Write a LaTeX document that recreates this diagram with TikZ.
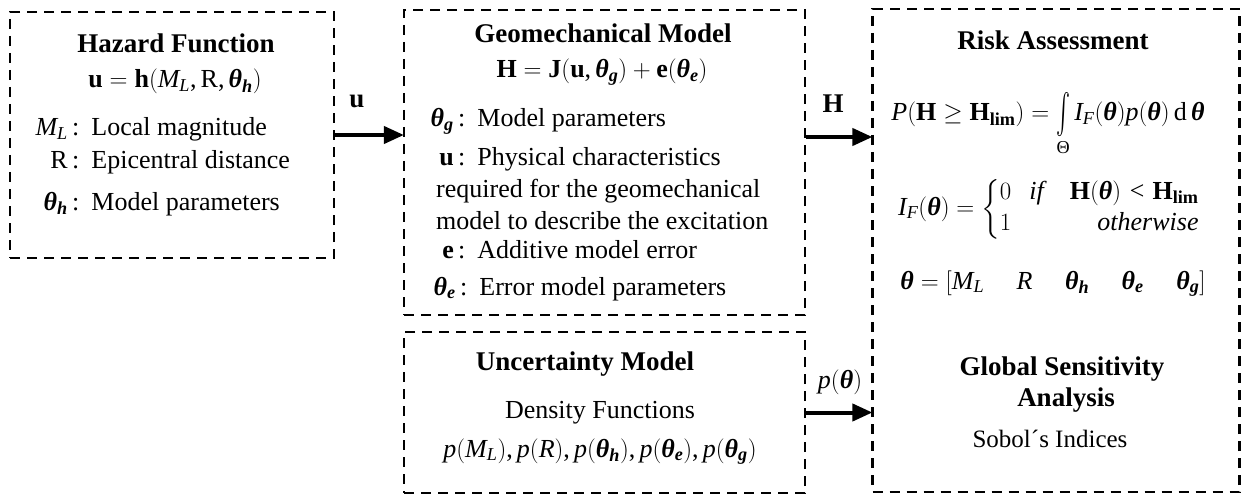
\documentclass[tikz,border=0pt]{standalone}
\usepackage{amsmath}
\usepackage{graphicx}
\usepackage{fontspec}
\setmainfont[NFSSFamily=libser]{Liberation Serif}
\DeclareSymbolFont{letters}{TU}{libser}{m}{it}
\DeclareSymbolFont{bletters}{TU}{libser}{b}{it}
\DeclareSymbolFont{uprm}{TU}{libser}{m}{n}
\DeclareMathAlphabet{\mbf}{TU}{libser}{b}{n}
\DeclareMathAlphabet{\mbi}{TU}{libser}{b}{it}
\DeclareMathAlphabet{\mrm}{TU}{libser}{m}{n}
\Umathchardef\bth="0 \symbletters "03B8
\Umathchardef\myTheta="0 \symuprm "0398
\Umathcode`,="6 \symuprm "2C
\newcommand{\bigint}{\mathop{\vcenter{\hbox{\resizebox{14pt}{32pt}{$\int$}}}}\limits}
\usetikzlibrary{arrows.meta}
\tikzset{
  box/.style={draw, line width=2.2pt, dash pattern=on 10pt off 7pt, inner sep=0pt},
  txt/.style={inner sep=0pt, anchor=base, font=\fontsize{26}{31}\selectfont},
  ttl/.style={txt, font=\fontsize{27}{31}\selectfont\bfseries},
  lbl/.style={txt, anchor=base east},
  itm/.style={txt, anchor=base west},
  arr/.style={line width=4pt, -{Triangle[length=20pt,width=17pt]}, shorten >=-1pt}
}
\begin{document}
\begin{tikzpicture}[x=1pt,y=-1pt]
\useasboundingbox (0,0) rectangle (1241,497);
% boxes
\node[box, minimum width=324pt, minimum height=246pt] (hz) at (172,135) {};
\node[box, minimum width=401pt, minimum height=305pt] (geo) at (604.5,162.5) {};
\node[box, minimum width=401pt, minimum height=161pt] (unc) at (604.5,412.5) {};
\node[box, minimum width=367pt, minimum height=483pt] (risk) at (1056,250.5) {};
% hazard
\node[ttl] (hzt) at (176,53) {Hazard Function};
\node[txt] (hze) at (175,88) {$\mbf{u}=\mbf{h}(M_L,\mrm{R},\bth_{\mbi{h}})$};
\node[lbl] (hz1l) at (68,136) {$M_L$};
\node[itm] (hz1) at (72,136) {:\hspace{12pt}Local magnitude};
\node[lbl] (hz2l) at (68,168) {R};
\node[itm] (hz2) at (72,168) {:\hspace{12pt}Epicentral distance};
\node[lbl] (hz3l) at (68,210) {$\bth_{\mbi{h}}$};
\node[itm] (hz3) at (72,210) {:\hspace{12pt}Model parameters};
% geomechanical
\node[ttl] (geot) at (603,43) {Geomechanical Model};
\node[txt] (geoe) at (602,78) {$\mbf{H}=\mbf{J}(\mbf{u},\bth_{\mbi{g}})+\mbf{e}(\bth_{\mbi{e}})$};
\node[lbl] (g1l) at (454,127) {$\bth_{\mbi{g}}$};
\node[itm] (g1) at (458,127) {:\hspace{12pt}Model parameters};
\node[lbl] (g2l) at (454,166) {$\mbf{u}$};
\node[itm] (g2) at (458,166) {:\hspace{12pt}Physical characteristics};
\node[itm] (g3) at (436,197) {required for the geomechanical};
\node[itm] (g4) at (436,229) {model to describe the excitation};
\node[lbl] (g5l) at (454,258) {$\mbf{e}$};
\node[itm] (g5) at (458,258) {:\hspace{12pt}Additive model error};
\node[lbl] (g6l) at (456,295) {$\bth_{\mbi{e}}$};
\node[itm] (g6) at (460,295) {:\hspace{12pt}Error model parameters};
% uncertainty
\node[ttl] (unct) at (585,370) {Uncertainty Model};
\node[txt] (unc1) at (600,418) {Density Functions};
\node[txt] (unc2) at (600,457) {$p(M_L),p(R),p(\bth_{\mbi{h}}),p(\bth_{\mbi{e}}),p(\bth_{\mbi{g}})$};
% risk
\node[ttl] (riskt) at (1053,50) {Risk Assessment};
\node[txt] (r1) at (1048,121) {$P(\mbf{H}\geq\mbf{H}_{\mbf{lim}})=\bigint_{\myTheta} I_F(\bth)p(\bth)\,\mrm{d}\,\bth$};
\node[txt, anchor=west] (r2) at (898,209) {$I_F(\bth)=\left\{\begin{array}{@{}l@{\hspace{18pt}}r@{}}0 & \textit{if}\quad \mbf{H}(\bth)<\mbf{H}_{\mbf{lim}}\\ 1 & \textit{otherwise}\end{array}\right.$};
\node[txt] (r3) at (1053,289) {$\bth=[M_L\hspace{1.25em}R\hspace{1.25em}\bth_{\mbi{h}}\hspace{1.25em}\bth_{\mbi{e}}\hspace{1.25em}\bth_{\mbi{g}}]$};
\node[ttl] (gs1) at (1062,375) {Global Sensitivity};
\node[ttl] (gs2) at (1066,406) {Analysis};
\node[txt, font=\fontsize{25}{30}\selectfont] (gs3) at (1050,447) {Sobol´s Indices};
% connectors
\coordinate (hy) at (0,137);
\draw[arr] (hz.east) -- (hz.east -| geo.west);
\draw[arr] (geo.east |- hy) -- (risk.west |- hy);
\draw[arr] (unc.east) -- (unc.east -| risk.west);
\node[ttl] (ul) at (357,108) {u};
\node[ttl] (hl) at (833,113) {H};
\node[txt] (pl) at (840,388) {$p(\bth)$};
\end{tikzpicture}
\end{document}
